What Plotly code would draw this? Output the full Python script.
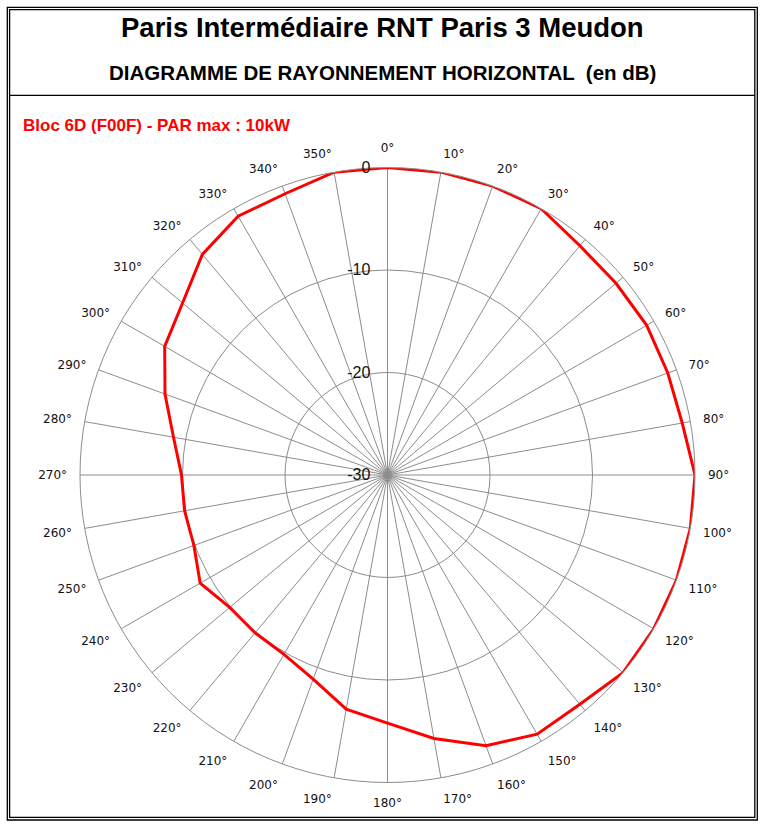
import plotly.graph_objects as go

# Horizontal radiation pattern, one value per 10 degrees (dB)
angles = list(range(0, 360, 10))
gain_db = [0, 0, 0, 0, -0.8, -0.9, -0.8, -0.9, -0.8,
           0, 0, 0, 0, 0, -0.8, -0.8, -1.9, -3.9,
           -5.8, -6.8, -8.8, -9.8, -9.9, -9.9, -8.9, -9.9, -9.9,
           -9.9, -8.8, -6.9, -4.9, -3.9, -1.9, -0.85, -0.8, 0]
angle_labels = [f"{a}°" for a in angles]
radial_ticks = [-30, -20, -10, 0]

title_main = "Paris Intermédiaire RNT Paris 3 Meudon"
title_sub = "DIAGRAMME DE RAYONNEMENT HORIZONTAL  (en dB)"
bloc_label = "Bloc 6D (F00F) - PAR max : 10kW"

W, H = 762, 825

def px(x):
    return x / W

def py(y):
    return 1 - y / H

fig = go.Figure()

# close the curve back on 0°
fig.add_trace(go.Scatterpolar(
    theta=angles + angles[:1],
    r=gain_db + gain_db[:1],
    mode="lines",
    line=dict(color="#ff0000", width=3),
    showlegend=False,
    hoverinfo="skip",
))

grid_col = "#8c8c8c"

fig.update_layout(
    width=W, height=H,
    margin=dict(l=0, r=0, t=0, b=0),
    paper_bgcolor="white",
    plot_bgcolor="white",
    polar=dict(
        domain=dict(x=[px(80), px(695)], y=[py(782.5), py(167.5)]),
        gridshape="linear",
        bgcolor="white",
        angularaxis=dict(
            rotation=90,
            direction="clockwise",
            tickmode="array",
            tickvals=angles,
            ticktext=angle_labels,
            ticks="outside",
            ticklen=10,
            tickcolor="rgba(0,0,0,0)",
            showline=True,
            linecolor=grid_col,
            linewidth=1,
            gridcolor=grid_col,
            gridwidth=1,
            tickfont=dict(family="DejaVu Sans", size=12, color="#111111"),
        ),
        radialaxis=dict(
            range=[-30, 0],
            tickmode="array",
            tickvals=radial_ticks,
            ticktext=[str(v) for v in radial_ticks],
            angle=90,
            tickangle=90,
            side="counterclockwise",
            showline=False,
            gridcolor=grid_col,
            gridwidth=1,
            ticks="outside",
            ticklen=11,
            tickcolor="rgba(0,0,0,0)",
            tickfont=dict(family="Liberation Sans", size=16, color="#111111"),
        ),
    ),
)

# double frame and title separator
fig.add_shape(type="rect", xref="paper", yref="paper",
              x0=px(7.3), x1=px(757.3), y0=py(820), y1=py(7.3),
              line=dict(color="black", width=1.3))
fig.add_shape(type="rect", xref="paper", yref="paper",
              x0=px(9.6), x1=px(754.8), y0=py(817.4), y1=py(9.6),
              line=dict(color="black", width=1.3))
fig.add_shape(type="line", xref="paper", yref="paper",
              x0=px(9.6), x1=px(754.8), y0=py(95.3), y1=py(95.3),
              line=dict(color="black", width=1.3))

fig.add_annotation(text=f"<b>{title_main}</b>", xref="paper", yref="paper",
                   x=px(383), y=py(28), xanchor="center", yanchor="middle",
                   showarrow=False,
                   font=dict(family="Liberation Sans", size=27.5, color="black"))
fig.add_annotation(text=f"<b>{title_sub}</b>", xref="paper", yref="paper",
                   x=px(383), y=py(72), xanchor="center", yanchor="middle",
                   showarrow=False,
                   font=dict(family="Liberation Sans", size=20.5, color="black"))
fig.add_annotation(text=f"<b>{bloc_label}</b>", xref="paper", yref="paper",
                   x=px(21), y=py(126), xanchor="left", yanchor="middle",
                   showarrow=False,
                   font=dict(family="Liberation Sans", size=17, color="#ff0000"))

# page body has a default 8px margin; drop it so the figure fills the window
fig.write_html("out.html", config={"displayModeBar": False},
               post_script="document.body.style.margin='0px';")
